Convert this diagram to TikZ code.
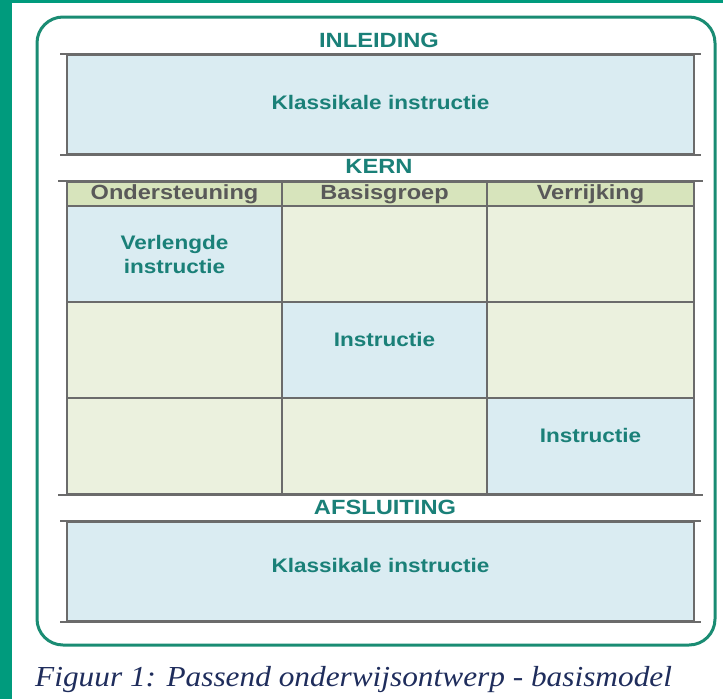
\documentclass[tikz,border=0pt]{standalone}
\usepackage{fontspec}
\newfontfamily\labfont[FakeStretch=1.15]{Liberation Sans}
\newfontfamily\capfont[FakeStretch=1.08]{Liberation Serif}
\definecolor{tealbar}{HTML}{009B7D}
\definecolor{frame}{HTML}{1A8C73}
\definecolor{titletxt}{HTML}{1A8078}
\definecolor{boxblue}{HTML}{DAECF2}
\definecolor{cellgreen}{HTML}{EBF1DE}
\definecolor{headfill}{HTML}{D7E4BC}
\definecolor{headtxt}{HTML}{595959}
\definecolor{bordergray}{HTML}{6B6B6B}
\definecolor{captxt}{HTML}{1F2D5C}
\tikzset{
  title/.style={text=titletxt, font=\labfont\bfseries\fontsize{20.6}{22}\selectfont, inner sep=0},
  bigbox/.style={rectangle, fill=boxblue, draw=bordergray, line width=2pt, minimum width=627pt, minimum height=99pt, inner sep=0,
     text=titletxt, font=\labfont\bfseries\fontsize{19.6}{22}\selectfont},
  headcell/.style={rectangle, fill=headfill, draw=bordergray, line width=1.6pt, minimum height=24pt, inner sep=0,
     text=headtxt, font=\labfont\bfseries\fontsize{20.5}{22}\selectfont},
  gcell/.style={rectangle, fill=cellgreen, draw=bordergray, line width=1.6pt, minimum height=96pt, inner sep=0,
     text=titletxt, font=\labfont\bfseries\fontsize{19.6}{24}\selectfont, align=center},
  bcell/.style={gcell, fill=boxblue},
  ext/.style={draw=bordergray, line width=2pt},
}
\begin{document}
\begin{tikzpicture}[x=1pt,y=-1pt]
\useasboundingbox (0,0) rectangle (723,699);
\fill[tealbar] (0,0) rectangle (723,3);
\fill[tealbar] (0,0) rectangle (12,699);
\draw[frame, line width=3pt, rounded corners=26pt] (37,17) rectangle (715,645);
% titles
\node[title] (tinl) at (379,40) {INLEIDING};
\node[title] (tkern) at (379,166) {KERN};
\node[title] (tafs) at (385,507) {AFSLUITING};
% boxes
\node[bigbox, text depth=4pt] (inl) at (380.5,104.5) {Klassikale instructie};
\draw[ext] ([xshift=-6pt]inl.north west) -- ([xshift=6pt]inl.north east);
\draw[ext] ([xshift=-6pt]inl.south west) -- ([xshift=6pt]inl.south east);
% table header
\node[headcell, minimum width=215pt] (h1) at (174.5,194) {Ondersteuning};
\node[headcell, minimum width=205pt] (h2) at (384.5,194) {Basisgroep};
\node[headcell, minimum width=207pt] (h3) at (590.5,194) {Verrijking};
% rows
\node[bcell, minimum width=215pt] (c11) at (174.5,254) {Verlengde\\instructie};
\node[gcell, minimum width=205pt] (c12) at (384.5,254) {};
\node[gcell, minimum width=207pt] (c13) at (590.5,254) {};
\node[gcell, minimum width=215pt] (c21) at (174.5,350) {};
\node[bcell, minimum width=205pt, text depth=22pt] (c22) at (384.5,350) {Instructie};
\node[gcell, minimum width=207pt] (c23) at (590.5,350) {};
\node[gcell, minimum width=215pt] (c31) at (174.5,446) {};
\node[gcell, minimum width=205pt] (c32) at (384.5,446) {};
\node[bcell, minimum width=207pt, text depth=22pt] (c33) at (590.5,446) {Instructie};
\draw[ext] ([xshift=-8pt]h1.north west) -- ([xshift=8pt]h3.north east);
\draw[ext] ([xshift=-8pt]c31.south west) -- ([xshift=8pt]c33.south east);
% closing box
\node[bigbox, text depth=12pt] (afs) at (380.5,571) {Klassikale instructie};
\draw[ext] ([xshift=-6pt]afs.north west) -- ([xshift=6pt]afs.north east);
\draw[ext] ([xshift=-6pt]afs.south west) -- ([xshift=6pt]afs.south east);
% caption
\node[anchor=base west, inner sep=0, text=captxt, font=\capfont\itshape\fontsize{29}{32}\selectfont] (cap) at (35,686) {Figuur 1: Passend onderwijsontwerp - basismodel};
\end{tikzpicture}
\end{document}
